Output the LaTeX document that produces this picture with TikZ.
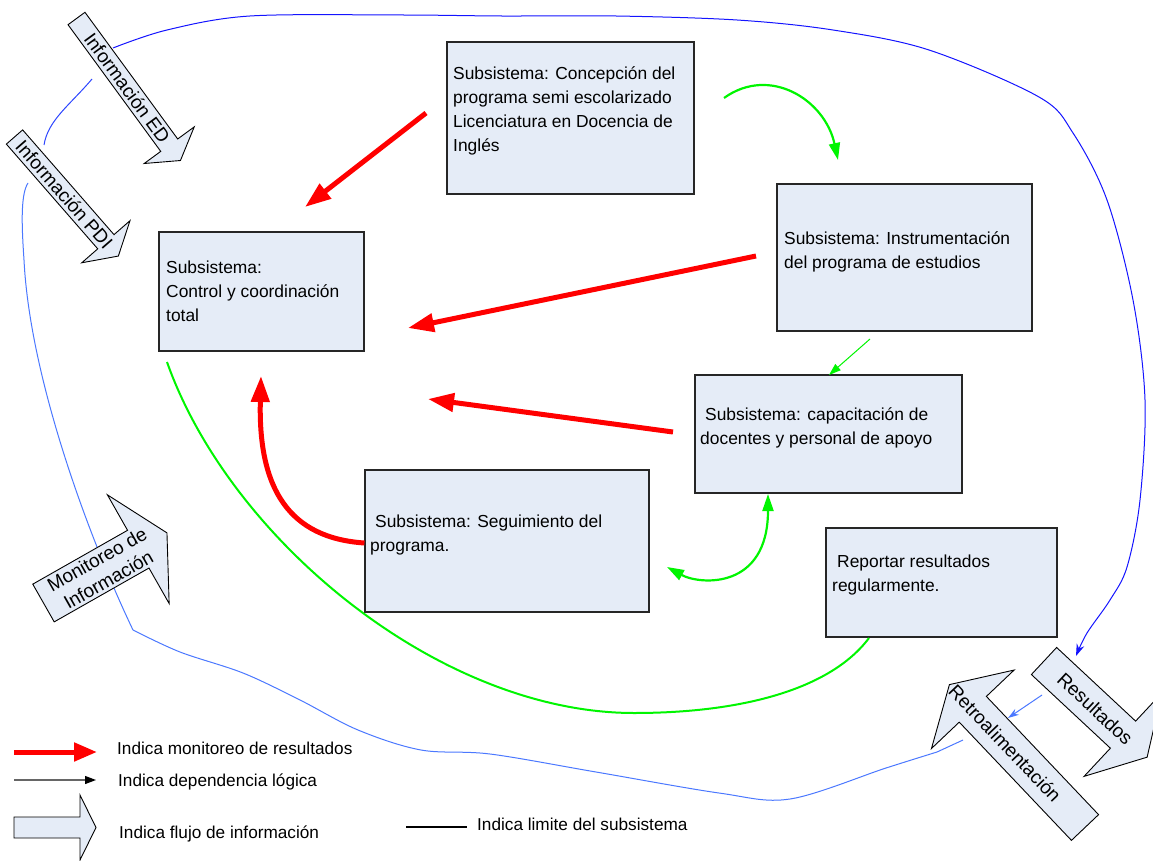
\documentclass[tikz,border=0pt]{standalone}
\usepackage{fontspec}
\setmainfont{Liberation Sans}
\usetikzlibrary{arrows.meta,calc}

\definecolor{boxfill}{RGB}{229,236,247}
\definecolor{monred}{RGB}{255,0,0}
\definecolor{depgreen}{RGB}{0,245,0}
\definecolor{limitblue}{RGB}{20,20,255}
\definecolor{limitmid}{RGB}{45,70,255}
\definecolor{limitlight}{RGB}{75,120,255}

\tikzset{
  sbox/.style={draw=black!85, line width=1.1pt, fill=boxfill, inner sep=0pt},
  % anchored at the baseline of the last line
  stext/.style={font=\fontsize{17.4}{24}\selectfont, align=left, anchor=base west, inner sep=0pt},
  legtext/.style={font=\fontsize{17.2}{22}\selectfont, anchor=base west, inner sep=0pt},
  flowshape/.style={draw=black, line width=0.9pt, fill=boxfill, line join=miter},
  flowtext/.style={font=\fontsize{19}{23}\selectfont, align=center, inner sep=0pt, transform shape},
  monitor/.style={draw=monred, line width=5pt, -{Triangle[length=26pt,width=18pt]}},
  depend/.style={draw=depgreen, line width=2.2pt, -{Triangle[length=17pt,width=11pt]}},
  dependthin/.style={draw=depgreen, line width=1pt, -{Triangle[length=12pt,width=8pt]}},
  dependboth/.style={draw=depgreen, line width=2.2pt, {Triangle[length=17pt,width=11pt]}-{Triangle[length=17pt,width=11pt]}},
  limitline/.style={line width=1pt},
}

% block arrow: tail centre, angle, body length, tip length, half body width,
% half head width, text position along the axis, node name, text
\newcommand{\flowarrow}[9]{%
  \begin{scope}[shift={#1}, rotate=#2]
    \draw[flowshape] (0,-#5) -- (#3,-#5) -- (#3,-#6) -- ({#3+#4},0) -- (#3,#6) -- (#3,#5) -- (0,#5) -- cycle;
    \node[flowtext] (#8) at (#7,0) {#9};
  \end{scope}}

\begin{document}
\begin{tikzpicture}[x=1pt,y=-1pt]
\useasboundingbox (0,0) rectangle (1153,861);

% ---- system boundary ----
\draw[limitline, limitmid] (92,79) .. controls (70,105) and (48,120) .. (44,145);
\draw[limitline, limitlight]
  (28,183) .. controls (20,195) and (22,230) .. (24,260)
  .. controls (30,380) and (90,540) .. (133,630)
  plot[smooth, tension=0.55] coordinates {(133,630) (180,652) (243,673) (300,700) (358,730) (421,750) (490,754) (596,772) (719,793) (790,799) (886,768) (937,752)};

% ---- information flow arrows ----
\flowarrow{(1085,827.5)}{-226.5}{163}{34}{18.7}{57}{116}{retro}{\rotatebox{180}{Retroalimentación}}
\flowarrow{(1044,661)}{-43}{108}{33}{18.5}{57}{70}{resultados}{Resultados}
\flowarrow{(76.5,18.5)}{-53.8}{157}{19}{10.5}{31}{86}{infoed}{Información ED}
\flowarrow{(14.5,137)}{-48.9}{139}{19}{10.8}{32}{76}{infopdi}{Información PDI}
\flowarrow{(43.5,603)}{29.6}{109}{33}{21.7}{62.5}{68}{monitoreo}{Monitoreo de\\Información}

% boundary piece that lies over the feedback arrow
\draw[limitline, limitlight] (937,752) -- (963,740);

% upper boundary ending at the results arrow
\draw[limitline, limitblue, -{Stealth[length=12pt,width=8pt]}]
  plot[smooth, tension=0.55] coordinates {(113,48) (167,30) (250,16) (400,15) (501,16) (616,16) (737,20) (833,30) (929,50) (1039,97) (1073,133) (1107,200) (1133,300) (1145,400) (1140,500) (1127,567) (1110,600) (1087,633) (1076,656)};

\coordinate (resout) at (1042,695);
\coordinate (retroin) at (1008,718);
\draw[limitline, limitlight, -{Stealth[length=11pt,width=7pt]}] (resout) -- (retroin);

% ---- subsystems ----
\node[sbox, minimum width=247pt, minimum height=152pt] (concepcion) at (570.5,118) {};
\node[sbox, minimum width=255pt, minimum height=147pt] (instrumentacion) at (904.5,257.5) {};
\node[sbox, minimum width=205pt, minimum height=119pt] (control) at (261.5,291.5) {};
\node[sbox, minimum width=267pt, minimum height=118pt] (capacitacion) at (828.5,434) {};
\node[sbox, minimum width=284pt, minimum height=142pt] (seguimiento) at (507,541) {};
\node[sbox, minimum width=231pt, minimum height=109pt] (reportar) at (941.5,582.5) {};

\node[stext] (concepciontxt) at (453,151.5) {Subsistema: Concepción del\\programa semi escolarizado\\Licenciatura en Docencia de\\Inglés};
\node[stext] (instrumentaciontxt) at (784,268.5) {Subsistema: Instrumentación\\del programa de estudios};
\node[stext] (controltxt) at (166,321.5) {Subsistema:\\Control y coordinación\\total};
\node[stext] (capacitaciontxt) at (700,444.5) {\hspace*{5pt}Subsistema: capacitación de\\docentes y personal de apoyo};
\node[stext] (seguimientotxt) at (370,551.5) {\hspace*{5pt}Subsistema: Seguimiento del\\programa.};
\node[stext] (reportartxt) at (832,591.5) {\hspace*{5pt}Reportar resultados\\regularmente.};

% ---- monitoring of results ----
\coordinate (m1) at (426,113);  \coordinate (m1t) at (305,207);
\coordinate (m2) at (756,256);  \coordinate (m2t) at (408,328);
\coordinate (m3) at (673,432);  \coordinate (m3t) at (428,399);
\coordinate (m4t) at (261,376);
\draw[monitor] (m1) -- (m1t);
\draw[monitor] (m2) -- (m2t);
\draw[monitor] (m3) -- (m3t);
\draw[monitor] ([yshift=-2pt]seguimiento.west) .. controls (290,538) and (258,490) .. (m4t);

% ---- logical dependencies ----
\coordinate (d1) at (724,98); \coordinate (d1t) at (838,160);
\draw[depend] (d1) .. controls (770,65) and (825,100) .. (d1t);
\coordinate (d2) at (870,339); \coordinate (d2t) at (829,375);
\draw[dependthin] (d2) -- (d2t);
\coordinate (d3) at (667,567); \coordinate (d3t) at (768,494);
\draw[dependboth] (d3) .. controls (700,585) and (768,590) .. (d3t);
\coordinate (d4) at (167,362); \coordinate (d4m) at (634,713); \coordinate (d4t) at (869,638);
\draw[draw=depgreen, line width=2pt] (d4) .. controls (230,540) and (440,713) .. (d4m)
  .. controls (740,713) and (830,690) .. (d4t);

% ---- legend ----
\coordinate (lg1a) at (14,752); \coordinate (lg1b) at (97,752);
\draw[draw=monred, line width=5pt, -{Triangle[length=23pt,width=18pt]}] (lg1a) -- (lg1b);
\coordinate (lg2a) at (14,780); \coordinate (lg2b) at (96,780);
\draw[draw=black!60, line width=1.2pt, -{Triangle[length=11pt,width=8pt,color=black]}] (lg2a) -- (lg2b);
\flowarrow{(14,827.5)}{0}{66}{16}{10.5}{32.5}{33}{legflow}{}
\coordinate (lg4a) at (406,827); \coordinate (lg4b) at (467,827);
\draw[black, line width=2pt] (lg4a) -- (lg4b);

\node[legtext] (lgt1) at (117,754) {Indica monitoreo de resultados};
\node[legtext] (lgt2) at (118,786) {Indica dependencia lógica};
\node[legtext] (lgt3) at (119,838) {Indica flujo de información};
\node[legtext] (lgt4) at (477,830) {Indica limite del subsistema};
\end{tikzpicture}
\end{document}
